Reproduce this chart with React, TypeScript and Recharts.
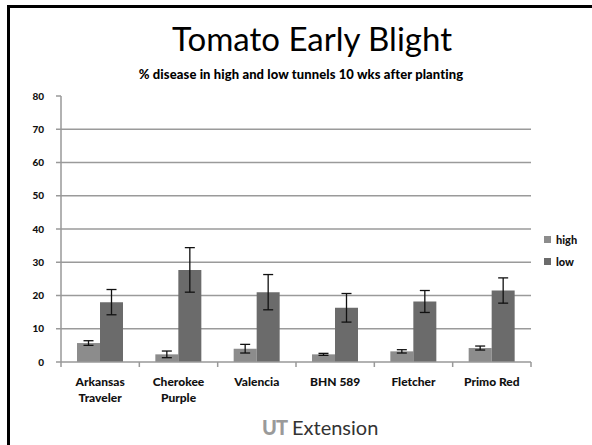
import React from 'react';
import { BarChart, Bar, XAxis, YAxis, CartesianGrid, ErrorBar } from 'recharts';

const categories = ['Arkansas Traveler', 'Cherokee Purple', 'Valencia', 'BHN 589', 'Fletcher', 'Primo Red'];
const highValues = [5.7, 2.3, 4.0, 2.3, 3.2, 4.2];
const highErrors = [0.7, 1.0, 1.3, 0.3, 0.5, 0.6];
const lowValues = [18.0, 27.7, 21.0, 16.3, 18.2, 21.5];
const lowErrors = [3.8, 6.7, 5.3, 4.3, 3.3, 3.8];
const yTicks = [0, 10, 20, 30, 40, 50, 60, 70, 80];
const gridValues = [10, 20, 30, 40, 50, 60, 70];
const seriesNames = ['high', 'low'];
const seriesColors = ['#8c8c8c', '#6b6b6b'];

const data = categories.map((c, i) => ({
  name: c,
  high: highValues[i],
  highErr: highErrors[i],
  low: lowValues[i],
  lowErr: lowErrors[i],
}));

const W = 592;
const H = 445;
const margin = { top: 96, right: 61, bottom: 0, left: 0 };
const xAxisHeight = 83;
const yAxisWidth = 61;
const plotWidth = W - margin.left - margin.right - yAxisWidth;
const band = plotWidth / categories.length;
const labelFont = 'Lato, "Open Sans", sans-serif';

const CategoryTick = (props: any) => {
  const { x, y, payload, index } = props;
  const words: string[] = String(payload.value).split(' ');
  let lines: string[];
  if (payload.value === 'BHN 589' || payload.value === 'Primo Red') lines = [payload.value];
  else if (words.length > 1) lines = [words[0], words.slice(1).join(' ')];
  else lines = [payload.value];
  const axisY = y - 8;
  return (
    <g>
      <line x1={x - band / 2} x2={x - band / 2} y1={axisY} y2={axisY + 5} stroke="#999" strokeWidth={1.5} />
      {index === categories.length - 1 && (
        <line x1={x + band / 2} x2={x + band / 2} y1={axisY} y2={axisY + 5} stroke="#999" strokeWidth={1.5} />
      )}
      {lines.map((l, i) => (
        <text key={i} x={x} y={axisY + 24 + i * 16} textAnchor="middle" fontFamily={labelFont} fontWeight={900} fontSize={12} fill="#111">
          {l}
        </text>
      ))}
    </g>
  );
};

export default function App() {
  return (
    <div style={{ position: 'absolute', left: 0, top: 0, width: W, height: H, background: '#fff', overflow: 'hidden' }}>
      <div style={{ position: 'absolute', left: 7, top: 5, width: 700, height: 600, borderLeft: '3px solid #000', borderTop: '3px solid #000' }} />
      <div style={{ position: 'absolute', left: 16, width: W, top: 17, textAlign: 'center', fontFamily: labelFont, fontSize: 33, color: '#000', lineHeight: '42px' }}>
        Tomato Early Blight
      </div>
      <div style={{ position: 'absolute', left: 5, width: W, top: 65, textAlign: 'center', fontFamily: labelFont, fontWeight: 900, fontSize: 13, color: '#000', lineHeight: '18px', letterSpacing: 0.1 }}>
        % disease in high and low tunnels 10 wks after planting
      </div>
      <div style={{ position: 'absolute', left: 0, top: 0 }}>
        <BarChart width={W} height={H} data={data} margin={margin} barCategoryGap={16} barGap={0}>
          <CartesianGrid horizontal vertical={false} horizontalValues={gridValues} stroke="#9a9a9a" strokeWidth={1.5} />
          <XAxis dataKey="name" interval={0} tickLine={false} axisLine={{ stroke: '#999', strokeWidth: 1.5 }} tick={<CategoryTick />} height={xAxisHeight} />
          <YAxis
            width={yAxisWidth}
            domain={[0, 80]}
            ticks={yTicks}
            interval={0}
            tickSize={5}
            tickMargin={12}
            tickLine={{ stroke: '#999', strokeWidth: 1.5 }}
            axisLine={{ stroke: '#999', strokeWidth: 1.5 }}
            tick={{ fontFamily: labelFont, fontWeight: 900, fontSize: 10, fill: '#111' }}
          />
          <Bar dataKey="high" name="high" fill={seriesColors[0]} isAnimationActive={false}>
            <ErrorBar dataKey="highErr" width={5} stroke="#111" strokeWidth={1.3} />
          </Bar>
          <Bar dataKey="low" name="low" fill={seriesColors[1]} isAnimationActive={false}>
            <ErrorBar dataKey="lowErr" width={5} stroke="#111" strokeWidth={1.3} />
          </Bar>
        </BarChart>
      </div>
      <div style={{ position: 'absolute', left: 544, top: 228, fontFamily: labelFont, fontWeight: 900, fontSize: 11, color: '#111' }}>
        {seriesNames.map((n, i) => (
          <div key={n} style={{ display: 'flex', alignItems: 'center', height: 22 }}>
            <span style={{ width: 7, height: 7, background: seriesColors[i], display: 'inline-block', marginRight: 5 }} />
            <span>{n}</span>
          </div>
        ))}
      </div>
      <div style={{ position: 'absolute', left: 262, top: 414, display: 'flex', alignItems: 'center', fontFamily: labelFont, lineHeight: '26px' }}>
        <span style={{ fontWeight: 900, fontSize: 20, color: '#9a9a9a', letterSpacing: -1, marginRight: 5 }}>UT</span>
        <span style={{ fontSize: 20, color: '#333' }}>Extension</span>
      </div>
    </div>
  );
}
